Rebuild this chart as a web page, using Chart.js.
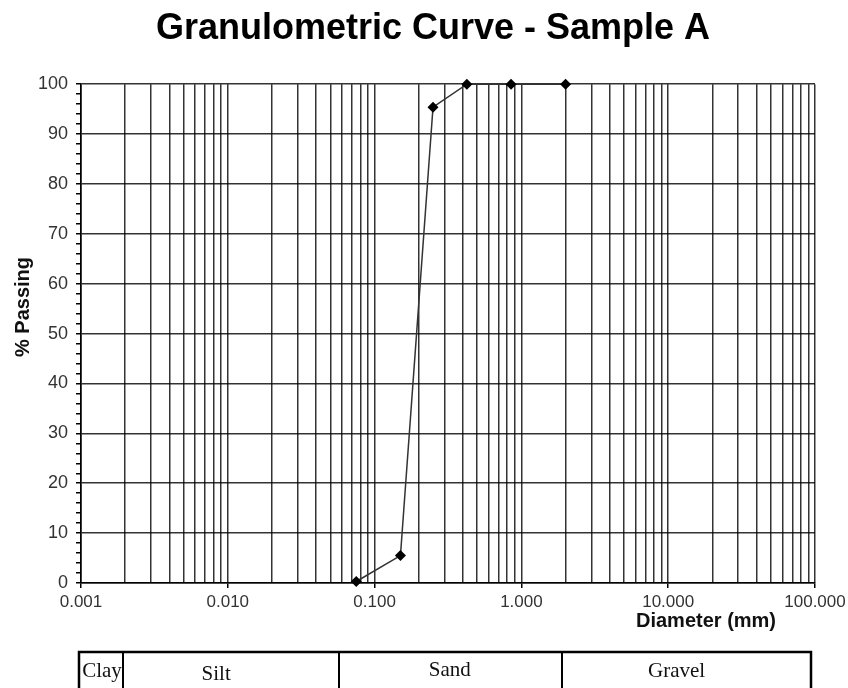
<!DOCTYPE html>
<html>
<head>
<meta charset="utf-8">
<script src="https://cdn.jsdelivr.net/npm/chart.js@4/dist/chart.umd.min.js"></script>
<style>
  html, body { margin: 0; padding: 0; background: #fff; }
  #wrap { width: 848px; height: 688px; position: relative; }
</style>
</head>
<body>
<div id="wrap"><canvas id="gradChart"></canvas></div>
<script>
// Sieve results (diameter in mm, % passing)
const diameters = [0.075, 0.15, 0.25, 0.425, 0.85, 2.0];
const passing = [0.3, 5.5, 95.4, 100, 100, 100];

// Log axis decades and their labels
const xDecades = [0.001, 0.01, 0.1, 1, 10, 100];
const xTickLabels = ['0.001', '0.010', '0.100', '1.000', '10.000', '100.000'];
const xMultipliers = [1, 2, 3, 4, 5, 6, 7, 8, 9];

// Soil classes and their upper size limits (mm)
const soilClasses = ['Clay', 'Silt', 'Sand', 'Gravel'];
const soilLimits = [0.002, 0.06, 2];

const chartTitle = 'Granulometric Curve - Sample A';
const xTitle = 'Diameter (mm)';
const yTitle = '% Passing';

// grid lines at 1..9 x each decade
const xGridValues = [];
xDecades.forEach(d => {
    xMultipliers.forEach(m => {
        const v = Number((d * m).toPrecision(6));
        if (v <= 100) xGridValues.push(v);
    });
});

const isDecade = v => xDecades.some(d => Math.abs(d - v) < d * 1e-6);

const SANS = "'Liberation Sans', Arial, sans-serif";
const SERIF = "'Liberation Serif', 'Times New Roman', serif";
const GRID = 'rgba(0,0,0,0.8)';

// axis titles + soil class strip under the chart
const extrasPlugin = {
    id: 'extras',
    afterDraw(chart) {
        const ctx = chart.ctx;
        const x = chart.scales.x;
        ctx.save();
        ctx.fillStyle = '#111';
        ctx.font = 'bold 20px ' + SANS;
        ctx.textAlign = 'center';
        ctx.textBaseline = 'middle';
        ctx.fillText(xTitle, 706, 621);

        ctx.translate(23, 307);
        ctx.rotate(-Math.PI / 2);
        ctx.fillText(yTitle, 0, 0);
        ctx.restore();

        // strip is slightly narrower than the axis
        const left = 79, right = 811, top = 652, bottom = 700;
        const map = px => left + (px - x.left) * (right - left) / (x.right - x.left);
        const edges = [left].concat(soilLimits.map(v => map(x.getPixelForValue(v))), [right]);

        ctx.save();
        ctx.strokeStyle = '#000';
        ctx.lineWidth = 2.5;
        ctx.strokeRect(left, top, right - left, bottom - top);
        ctx.lineWidth = 2;
        edges.slice(1, -1).forEach(e => {
            ctx.beginPath();
            ctx.moveTo(Math.round(e), top);
            ctx.lineTo(Math.round(e), bottom);
            ctx.stroke();
        });
        ctx.fillStyle = '#111';
        ctx.font = '21px ' + SERIF;
        ctx.textAlign = 'center';
        ctx.textBaseline = 'alphabetic';
        const dx = [1, -15, -1, -10];
        const dy = [0, 3, -1, 0];
        soilClasses.forEach((name, i) => {
            const cx = (edges[i] + edges[i + 1]) / 2 + dx[i];
            ctx.fillText(name, cx, 677 + dy[i]);
        });
        ctx.restore();
    }
};

const ctx = document.getElementById('gradChart').getContext('2d');
new Chart(ctx, {
    type: 'line',
    data: {
        datasets: [{
            data: diameters.map((d, i) => ({ x: d, y: passing[i] })),
            borderColor: '#333',
            borderWidth: 1.5,
            backgroundColor: '#000',
            pointStyle: 'rectRot',
            pointRadius: 5.5,
            pointBorderWidth: 0,
            tension: 0,
            clip: false
        }]
    },
    options: {
        responsive: true,
        maintainAspectRatio: false,
        animation: false,
        layout: { padding: { left: 18, right: 0, top: 0, bottom: 0 } },
        plugins: {
            legend: { display: false },
            tooltip: { enabled: false },
            title: {
                display: true,
                text: chartTitle,
                color: '#000',
                font: { family: SANS, size: 36, weight: 'bold', lineHeight: 1.2 },
                padding: { top: 7, bottom: 34 }
            }
        },
        scales: {
            x: {
                type: 'logarithmic',
                min: 0.001,
                max: 100,
                afterBuildTicks: scale => {
                    scale.ticks = xGridValues.map(v => ({ value: v }));
                },
                afterFit: scale => {
                    scale.height = 105;
                    scale.paddingRight = 33;
                },
                ticks: {
                    autoSkip: false,
                    maxRotation: 0,
                    minRotation: 0,
                    padding: 4,
                    color: '#333',
                    font: { family: SANS, size: 17 },
                    callback: value => {
                        const i = xDecades.findIndex(d => Math.abs(d - value) < d * 1e-6);
                        return i >= 0 ? xTickLabels[i] : '';
                    }
                },
                grid: {
                    color: GRID,
                    lineWidth: 1.5,
                    tickLength: 5,
                    tickColor: c => (c.tick && isDecade(c.tick.value)) ? '#000' : 'rgba(0,0,0,0)'
                },
                border: { color: '#000', width: 1.6 }
            },
            y: {
                min: 0,
                max: 100,
                afterFit: scale => { scale.width = 63; },
                ticks: {
                    stepSize: 2,
                    autoSkip: false,
                    padding: 8,
                    color: '#333',
                    font: { family: SANS, size: 18 },
                    callback: value => (value % 10 === 0 ? String(value) : '')
                },
                grid: {
                    color: c => (c.tick && c.tick.value % 10 === 0) ? GRID : 'rgba(0,0,0,0)',
                    lineWidth: 1.5,
                    tickLength: 5,
                    tickColor: '#000'
                },
                border: { color: '#000', width: 1.6 }
            }
        }
    },
    plugins: [extrasPlugin]
});
</script>
</body>
</html>
